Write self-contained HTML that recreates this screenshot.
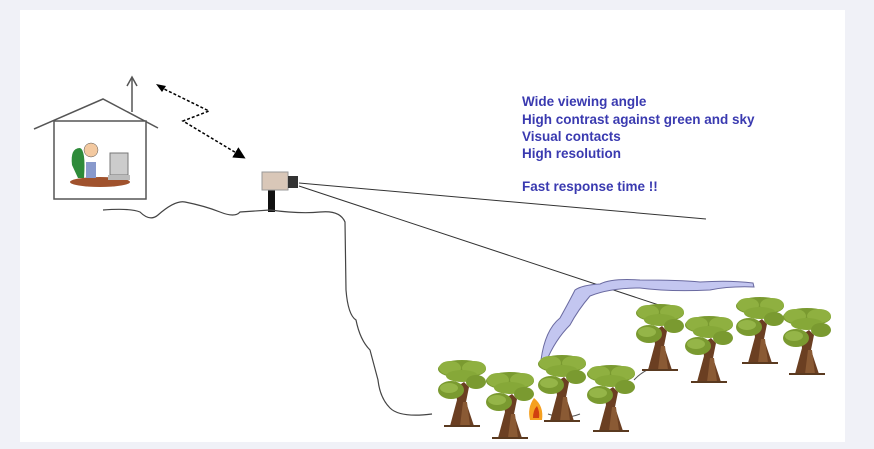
<!DOCTYPE html>
<html><head><style>
body{margin:0;background:#f0f1f7;width:874px;height:449px;overflow:hidden}
.p{position:absolute;left:20px;top:10px;width:825px;height:432px;background:#fff}
svg{position:absolute;left:0;top:0}
.t{font-family:"Liberation Sans",sans-serif;font-weight:bold;font-size:13.5px;fill:#3a3ab0}
</style></head><body>
<div class="p"></div>
<svg width="874" height="449" viewBox="0 0 874 449">
<defs>
<marker id="ar" markerWidth="8" markerHeight="8" refX="6" refY="4" orient="auto"><path d="M0,0 L8,4 L0,8z" fill="#000"/></marker>
<g id="tree">
<path d="M12,66 L19,40 L17,28 L26,22 L31,27 L28,42 L36,66z" fill="#6b3f22"/>
<path d="M22,66 L25,42 L29,42 L32,66z" fill="#8a5a34"/>
<ellipse cx="24" cy="9" rx="24" ry="9" fill="#7a9a30"/>
<ellipse cx="12" cy="8" rx="11" ry="7" fill="#8fb040"/>
<ellipse cx="36" cy="8" rx="12" ry="7" fill="#8fb040"/>
<ellipse cx="24" cy="16" rx="16" ry="6" fill="#86a838"/>
<ellipse cx="38" cy="22" rx="10" ry="7" fill="#7a9a30"/>
<ellipse cx="13" cy="30" rx="13" ry="9" fill="#7a9a30"/>
<ellipse cx="11" cy="28" rx="9" ry="5" fill="#95b548"/>
<path d="M6,66 L42,66" stroke="#5a3a20" stroke-width="2"/>
</g>
</defs>
<path d="M34,129 L103,99 L158,128" fill="none" stroke="#555" stroke-width="1.5"/>
<rect x="54" y="121" width="92" height="78" fill="#fff" stroke="#555" stroke-width="1.5"/>
<line x1="132" y1="112" x2="132" y2="78" stroke="#555" stroke-width="1.5"/>
<path d="M127,86 L132,77 L137,86" fill="none" stroke="#555" stroke-width="1.5"/>
<ellipse cx="100" cy="182" rx="30" ry="5" fill="#a0522d"/>
<path d="M72,165 Q70,148 80,148 Q86,150 84,178 L78,178z" fill="#2e8b3a"/>
<rect x="86" y="162" width="10" height="16" fill="#8899cc"/>
<circle cx="91" cy="150" r="7" fill="#f3c9a0" stroke="#555" stroke-width=".5"/>
<rect x="110" y="153" width="18" height="22" fill="#ccc" stroke="#777"/>
<rect x="108" y="175" width="22" height="5" fill="#bbb"/>
<path d="M160,87 L209,111 L183,121 L243,157" fill="none" stroke="#000" stroke-width="1.5" stroke-dasharray="3,2" marker-end="url(#ar)"/>
<path d="M156,84 L166,86 L162,92z" fill="#000"/>
<rect x="268" y="190" width="7" height="22" fill="#111"/>
<rect x="262" y="172" width="26" height="18" fill="#d9c7b8" stroke="#999"/>
<rect x="288" y="176" width="10" height="12" fill="#333"/>
<path d="M299,183 L706,219 M299,186 L680,312" stroke="#333" stroke-width="1"/>
<path d="M103,210 Q130,208 140,212 Q150,222 158,215 Q175,200 185,202 Q205,206 220,212 Q235,218 240,212 L270,210 Q300,214 320,212 Q340,210 345,222 L346,290 Q348,315 356,320 Q360,340 370,350 L378,380 Q380,398 390,408 Q400,418 432,414" fill="none" stroke="#444" stroke-width="1.2"/>
<path d="M548,414 Q565,420 580,414 M634,380 Q645,368 664,364" fill="none" stroke="#555" stroke-width="1"/>
<path d="M541,360 Q545,330 560,318 Q570,300 575,290 Q582,285 600,284 Q612,278 640,280 Q680,280 700,282 Q730,280 753,283 L754,287 Q730,286 710,290 Q670,292 640,288 Q610,288 590,296 Q578,310 570,325 Q555,340 546,362z" fill="#c3c6f0" stroke="#6a6aa0" stroke-width="1"/>
<use href="#tree" x="438" y="360"/>
<use href="#tree" x="486" y="372"/>
<use href="#tree" x="538" y="355"/>
<use href="#tree" x="587" y="365"/>
<use href="#tree" x="636" y="304"/>
<use href="#tree" x="685" y="316"/>
<use href="#tree" x="736" y="297"/>
<use href="#tree" x="783" y="308"/>
<path d="M530,420 Q527,408 534,398 Q544,406 542,420z" fill="#f5a020"/>
<path d="M533,418 Q533,410 537,406 Q540,412 539,418z" fill="#d04010"/>
<text class="t" x="522" y="106">Wide viewing angle</text>
<text class="t" x="522" y="124">High contrast against green and sky</text>
<text class="t" x="522" y="141">Visual contacts</text>
<text class="t" x="522" y="158">High resolution</text>
<text class="t" x="522" y="191">Fast response time !!</text>
</svg>
</body></html>
